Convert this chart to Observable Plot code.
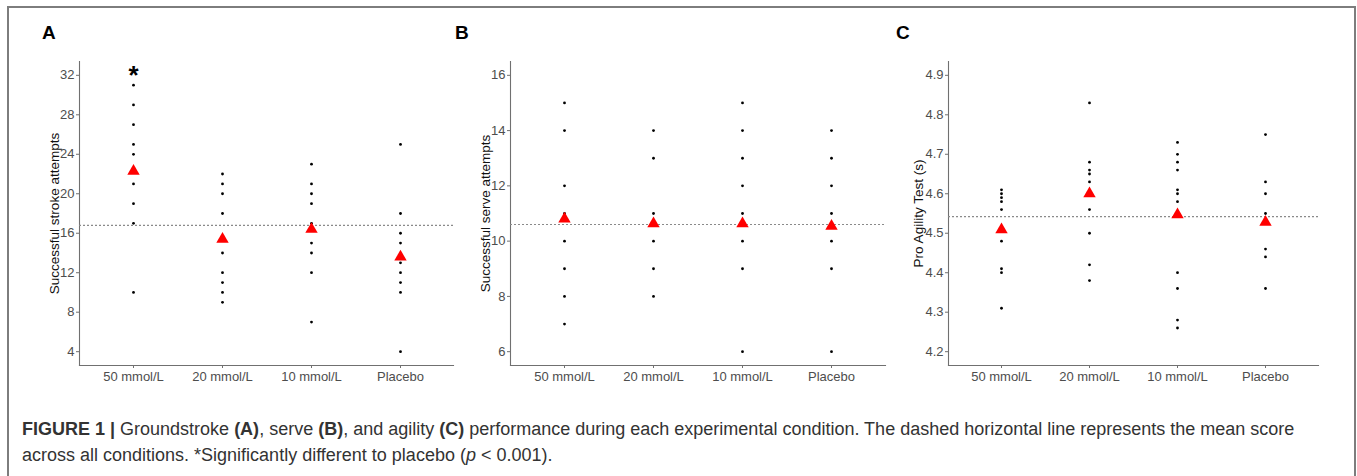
<!DOCTYPE html>
<html>
<head>
<meta charset="utf-8">
<script src="https://cdn.jsdelivr.net/npm/d3@7"></script>
<script src="https://cdn.jsdelivr.net/npm/@observablehq/plot@0.6"></script>
<style>
  html, body { margin: 0; padding: 0; background: #fff; }
  #fig { position: relative; width: 1357px; height: 476px; overflow: hidden; font-family: "Liberation Sans", Arial, sans-serif; }
  #border { position: absolute; left: 7px; top: 6px; width: 1349px; height: 480px; border: 2px solid #7d7d7d; border-bottom: none; box-sizing: border-box; }
  .panel { position: absolute; top: 40px; }
  .letter { position: absolute; top: 22px; font-weight: bold; font-size: 19px; color: #000; }
  #caption { position: absolute; left: 22px; top: 416px; font-size: 18px; line-height: 26px; color: #333; white-space: nowrap; }
</style>
</head>
<body>
<div id="fig">
  <div id="border"></div>
  <div class="letter" style="left:42px">A</div>
  <div class="letter" style="left:455px">B</div>
  <div class="letter" style="left:896px">C</div>
  <div id="pA" class="panel" style="left:10px"></div>
  <div id="pB" class="panel" style="left:455px"></div>
  <div id="pC" class="panel" style="left:890px"></div>
  <div id="caption"><b>FIGURE 1 |</b> Groundstroke <b>(A)</b>, serve <b>(B)</b>, and agility <b>(C)</b> performance during each experimental condition. The dashed horizontal line represents the mean score<br>across all conditions. *Significantly different to placebo (<i>p</i> &lt; 0.001).</div>
</div>
<script>
// ---- Data ----
const conditions = ["50 mmol/L", "20 mmol/L", "10 mmol/L", "Placebo"];

// Panel A: successful stroke attempts (per condition)
const stroke50 = [31, 29, 27, 25, 24, 21, 19, 17, 10];
const stroke20 = [22, 21, 20, 18, 14, 12, 11, 10, 9];
const stroke10 = [23, 21, 20, 19, 17, 15, 14, 12, 7];
const strokePlacebo = [25, 18, 16, 15, 13, 12, 11, 10, 4];
const strokeMeans = [22.3, 15.4, 16.4, 13.6];
const strokeGrandMean = 16.8;
const strokeTicks = [4, 8, 12, 16, 20, 24, 28, 32];
const strokeDomain = [2.6, 33.4];
const strokeStarY = 32.6;

// Panel B: successful serve attempts
const serve50 = [15, 14, 12, 11, 10, 9, 8, 7];
const serve20 = [14, 13, 11, 10, 9, 8];
const serve10 = [15, 14, 13, 12, 11, 10, 9, 6];
const servePlacebo = [14, 13, 12, 11, 10, 9, 6];
const serveMeans = [10.8, 10.63, 10.63, 10.54];
const serveGrandMean = 10.6;
const serveTicks = [6, 8, 10, 12, 14, 16];
const serveDomain = [5.5, 16.5];

// Panel C: pro agility test (s)
const agility50 = [4.61, 4.60, 4.59, 4.58, 4.56, 4.48, 4.41, 4.40, 4.31];
const agility20 = [4.83, 4.68, 4.66, 4.65, 4.63, 4.56, 4.50, 4.42, 4.38];
const agility10 = [4.73, 4.70, 4.68, 4.66, 4.61, 4.60, 4.58, 4.40, 4.36, 4.28, 4.26];
const agilityPlacebo = [4.75, 4.63, 4.60, 4.55, 4.46, 4.44, 4.36];
const agilityMeans = [4.509, 4.60, 4.547, 4.528];
const agilityGrandMean = 4.542;
const agilityTicks = [4.2, 4.3, 4.4, 4.5, 4.6, 4.7, 4.8, 4.9];
const agilityDomain = [4.165, 4.935];

// ---- Helpers ----
function toRows(groups) {
  const rows = [];
  groups.forEach((vals, i) => vals.forEach(v => rows.push({cond: conditions[i], value: v})));
  return rows;
}
function meanRows(means) {
  return means.map((m, i) => ({cond: conditions[i], value: m}));
}

const axisColor = "#707070";
const tickTextColor = "#4d4d4d";

function panel({groups, means, grand, ticks, domain, label, width, marginLeft, labelDx, tickFormat, extra = []}) {
  return Plot.plot({
    width,
    height: 360,
    marginTop: 21,
    marginBottom: 35,
    marginLeft,
    marginRight: 2,
    style: {fontFamily: "Liberation Sans, Arial, sans-serif", background: "white", overflow: "visible"},
    x: {type: "point", domain: conditions, padding: 0.6},
    y: {domain},
    marks: [
      Plot.frame({anchor: "left", stroke: axisColor, strokeWidth: 1.1}),
      Plot.frame({anchor: "bottom", stroke: axisColor, strokeWidth: 1.1}),
      Plot.axisY({ticks, tickSize: 3, tickPadding: 2, fontSize: 13, fill: tickTextColor, stroke: axisColor, label: null, tickFormat}),
      Plot.axisX({tickSize: 3, tickPadding: 3, fontSize: 13, fill: tickTextColor, stroke: axisColor, label: null}),
      Plot.text([label], {frameAnchor: "left", textAnchor: "middle", rotate: -90, dx: labelDx, fontSize: 13.5, fill: "#111", text: d => d}),
      Plot.ruleY([grand], {stroke: "#8a8a8a", strokeWidth: 1.1, strokeDasharray: "2,2"}),
      Plot.dot(toRows(groups), {x: "cond", y: "value", r: 1.4, fill: "black", stroke: null}),
      Plot.dot(meanRows(means), {x: "cond", y: "value", symbol: "triangle", r: 4.6, fill: "red", stroke: null}),
      ...extra
    ]
  });
}

document.getElementById("pA").appendChild(panel({
  groups: [stroke50, stroke20, stroke10, strokePlacebo],
  means: strokeMeans, grand: strokeGrandMean, ticks: strokeTicks, domain: strokeDomain,
  label: "Successful stroke attempts", width: 445, marginLeft: 69, labelDx: -25,
  tickFormat: d => String(d),
  extra: [Plot.text([{cond: conditions[0], value: strokeStarY}], {x: "cond", y: "value", text: () => "*", fontSize: 26, fontWeight: "bold", fill: "black", lineAnchor: "middle", dy: 6})]
}));

document.getElementById("pB").appendChild(panel({
  groups: [serve50, serve20, serve10, servePlacebo],
  means: serveMeans, grand: serveGrandMean, ticks: serveTicks, domain: serveDomain,
  label: "Successful serve attempts", width: 432, marginLeft: 55, labelDx: -25,
  tickFormat: d => String(d)
}));

document.getElementById("pC").appendChild(panel({
  groups: [agility50, agility20, agility10, agilityPlacebo],
  means: agilityMeans, grand: agilityGrandMean, ticks: agilityTicks, domain: agilityDomain,
  label: "Pro Agility Test (s)", width: 430, marginLeft: 58, labelDx: -30,
  tickFormat: d => d.toFixed(1)
}));
</script>
</body>
</html>
